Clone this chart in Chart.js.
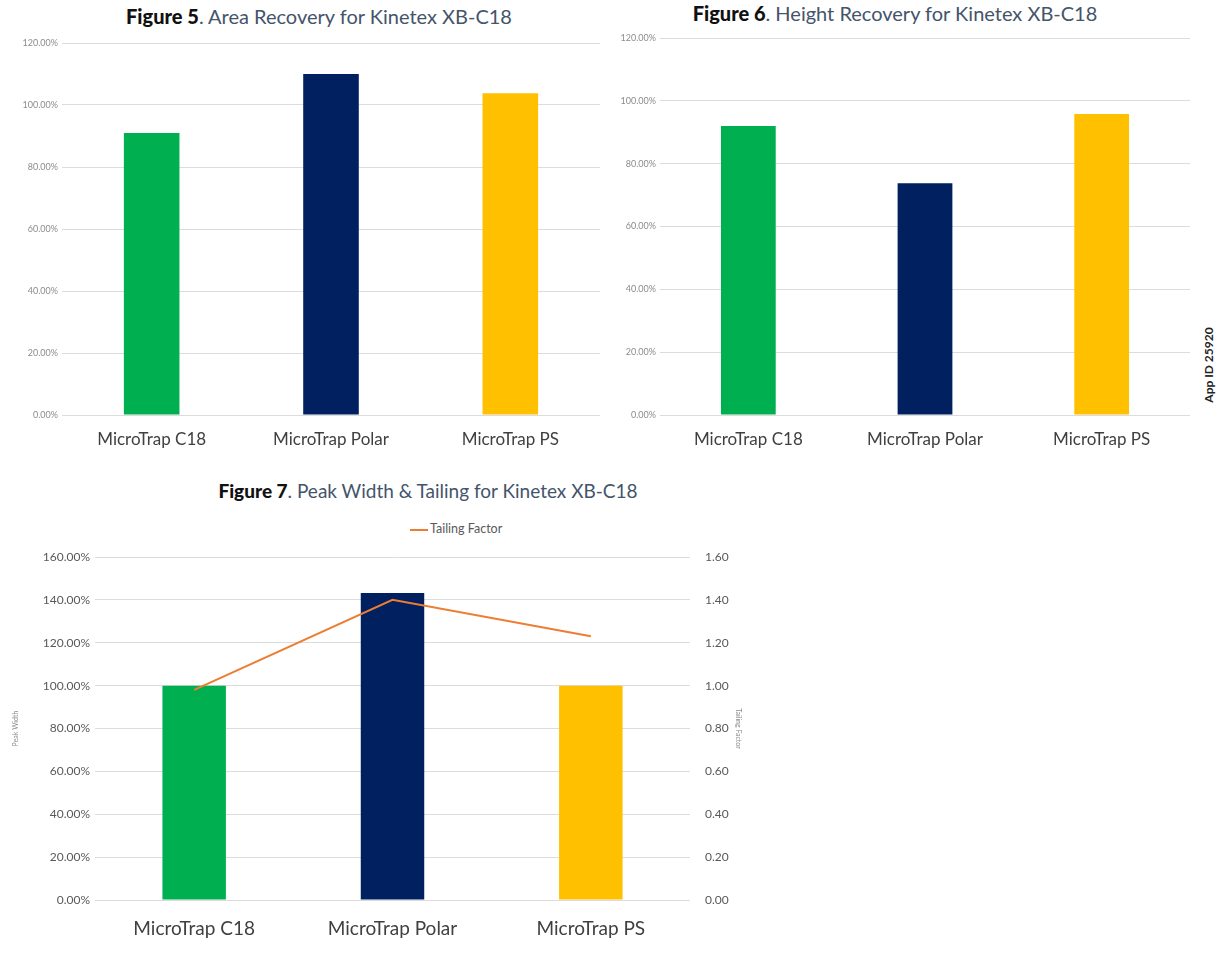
<!DOCTYPE html>
<html>
<head>
<meta charset="utf-8">
<script src="https://cdn.jsdelivr.net/npm/chart.js@4.4.1/dist/chart.umd.min.js"></script>
<style>
  body { margin: 0; background: #fff; font-family: Lato, "Open Sans", sans-serif; }
  #page { position: relative; width: 1219px; height: 957px; overflow: hidden; }
  .box { position: absolute; }
  .title { position: absolute; font-size: 20px; color: #44546A; white-space: nowrap; transform: translateX(-50%); }
  .title b { color: #111; font-weight: 900; }
  .legend { position: absolute; font-size: 12.5px; color: #595959; white-space: nowrap; }
  .legend i { display: inline-block; width: 18px; height: 2px; background: #ED7D31; vertical-align: middle; margin-right: 2px; }
  #appid { position: absolute; left: 1208px; top: 365px; transform: translate(-50%, -50%) rotate(-90deg); font-size: 12px; font-weight: bold; color: #222; white-space: nowrap; }
</style>
</head>
<body>
<div id="page">
  <div class="title" style="left:319px; top:4px;"><b>Figure 5</b>. Area Recovery for Kinetex XB-C18</div>
  <div class="title" style="left:895px; top:1px;"><b>Figure 6</b>. Height Recovery for Kinetex XB-C18</div>
  <div class="title" style="left:428px; top:479px; font-size:19px;"><b>Figure 7</b>. Peak Width &amp; Tailing for Kinetex XB-C18</div>
  <div class="legend" style="left:410px; top:521px;"><i></i>Tailing Factor</div>
  <div id="appid">App ID 25920</div>

  <div class="box" style="left:0; top:0; width:600px; height:460px;"><canvas id="fig5"></canvas></div>
  <div class="box" style="left:600px; top:0; width:600px; height:460px;"><canvas id="fig6"></canvas></div>
  <div class="box" style="left:0; top:500px; width:760px; height:457px;"><canvas id="fig7"></canvas></div>
</div>
<script>
// datos
const categories = ['MicroTrap C18', 'MicroTrap Polar', 'MicroTrap PS'];
const areaRecovery = [91.0, 110.0, 103.8];
const heightRecovery = [92.0, 73.8, 95.8];
const peakWidth = [100.0, 143.2, 100.0];
const tailingFactor = [0.98, 1.40, 1.23];
const barColors = ['#00B050', '#002060', '#FFC000'];

const gridColor = '#dcdcdc';
const font = 'Lato, "Open Sans", sans-serif';

// grafico de barras simple (fig 5 y 6)
const makeBarChart = (id, values, padTop, padRight, yWidth) => {
  const ctx = document.getElementById(id).getContext('2d');
  return new Chart(ctx, {
    type: 'bar',
    data: {
      labels: categories,
      datasets: [{
        label: id,
        data: values,
        backgroundColor: barColors,
        barPercentage: 0.31,
        categoryPercentage: 1
      }]
    },
    options: {
      responsive: true,
      maintainAspectRatio: false,
      animation: false,
      layout: { padding: { top: padTop, right: padRight, left: 0, bottom: 0 } },
      plugins: { legend: { display: false }, tooltip: { enabled: false } },
      scales: {
        x: {
          grid: { display: false },
          border: { display: false },
          ticks: { color: '#404040', font: { family: font, size: 17 }, padding: 6 },
          afterFit: s => { s.height = 45; }
        },
        y: {
          min: 0, max: 120,
          ticks: { stepSize: 20, color: '#8c8c8c', font: { family: font, size: 9 }, padding: 4,
                   callback: v => v.toFixed(2) + '%' },
          grid: { color: gridColor, lineWidth: 1, tickLength: 0 },
          border: { display: false },
          afterFit: s => { s.width = yWidth; }
        }
      }
    }
  });
};

makeBarChart('fig5', areaRecovery, 43, 0, 62);
makeBarChart('fig6', heightRecovery, 38, 10, 60);

// figura 7: barras + linea con eje secundario
new Chart(document.getElementById('fig7').getContext('2d'), {
  type: 'bar',
  data: {
    labels: categories,
    datasets: [
      {
        type: 'line',
        label: 'Tailing Factor',
        data: tailingFactor,
        yAxisID: 'y1',
        borderColor: '#ED7D31',
        borderWidth: 2,
        pointRadius: 0,
        tension: 0
      },
      {
        label: 'Peak Width',
        data: peakWidth,
        yAxisID: 'y',
        backgroundColor: barColors,
        barPercentage: 0.32,
        categoryPercentage: 1
      }
    ]
  },
  options: {
    responsive: true,
    maintainAspectRatio: false,
    animation: false,
    layout: { padding: { top: 57, right: 0, left: 0, bottom: 0 } },
    plugins: { legend: { display: false }, tooltip: { enabled: false } },
    scales: {
      x: {
        grid: { display: false },
        border: { display: false },
        ticks: { color: '#404040', font: { family: font, size: 19 }, padding: 9 },
        afterFit: s => { s.height = 57; }
      },
      y: {
        position: 'left',
        min: 0, max: 160,
        title: { display: true, text: 'Peak Width', color: '#8c8c8c', font: { family: font, size: 7 }, padding: 12 },
        ticks: { stepSize: 20, color: '#595959', font: { family: font, size: 12 }, padding: 5,
                 callback: v => v.toFixed(2) + '%' },
        grid: { color: gridColor, lineWidth: 1, tickLength: 0 },
        border: { display: false },
        afterFit: s => { s.width = 95; }
      },
      y1: {
        position: 'right',
        min: 0, max: 1.6,
        title: { display: true, text: 'Tailing Factor', color: '#8c8c8c', font: { family: font, size: 7 }, padding: 18 },
        ticks: { stepSize: 0.2, color: '#595959', font: { family: font, size: 12 }, padding: 7,
                 callback: v => v.toFixed(2) },
        grid: { display: false },
        border: { display: false },
        afterFit: s => { s.width = 70; }
      }
    }
  }
});
</script>
</body>
</html>
